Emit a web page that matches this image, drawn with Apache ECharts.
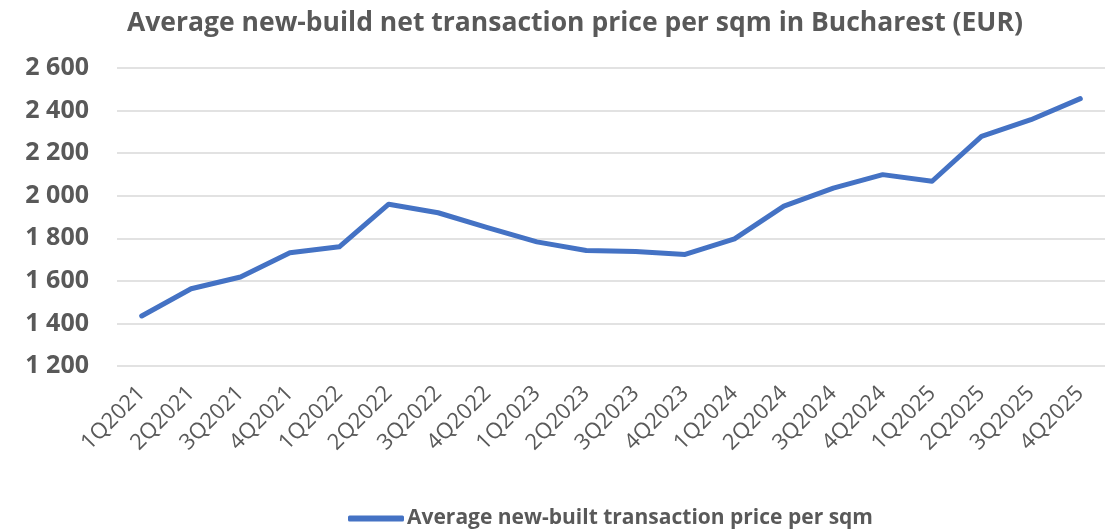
<!DOCTYPE html>
<html>
<head>
<meta charset="utf-8">
<script src="https://cdn.jsdelivr.net/npm/echarts@6/dist/echarts.min.js"></script>
<style>
  html, body { margin: 0; padding: 0; background: #fff; }
  #chart { width: 1116px; height: 530px; }
</style>
</head>
<body>
<div id="chart"></div>
<script>
// quarters on the x axis
const quarters = ['1Q2021', '2Q2021', '3Q2021', '4Q2021', '1Q2022', '2Q2022', '3Q2022', '4Q2022',
    '1Q2023', '2Q2023', '3Q2023', '4Q2023', '1Q2024', '2Q2024', '3Q2024', '4Q2024',
    '1Q2025', '2Q2025', '3Q2025', '4Q2025'];
// EUR per sqm
const prices = [1435, 1563, 1618, 1732, 1760, 1960, 1920, 1850,
    1783, 1743, 1738, 1724, 1797, 1951, 2036, 2099,
    2068, 2279, 2357, 2456];
const seriesName = 'Average new-built transaction price per sqm';

function fmt(v) {
    // thousands separated by a space
    return String(v).replace(/\B(?=(\d{3})+(?!\d))/g, ' ');
}

let chart = echarts.init(document.getElementById('chart'), null, { renderer: 'canvas' });
let option = {
    animation: false,
    title: {
        text: 'Average new-build net transaction price per sqm in Bucharest (EUR)',
        left: 122,
        top: 5,
        textStyle: {
            fontFamily: 'Open Sans',
            fontWeight: 'bold',
            fontSize: 26.5,
            color: '#595959'
        }
    },
    legend: {
        bottom: -4,
        left: 343,
        icon: 'roundRect',
        itemWidth: 56,
        itemHeight: 6,
        itemGap: 4,
        textStyle: {
            fontFamily: 'Open Sans',
            fontWeight: 'bold',
            fontSize: 21,
            color: '#595959',
            padding: [0, 0, 0, -2]
        }
    },
    grid: {
        left: 117,
        right: 11,
        top: 68,
        bottom: 164,
        containLabel: false
    },
    xAxis: {
        type: 'category',
        data: quarters,
        boundaryGap: true,
        axisLine: { show: false },
        axisTick: { show: false },
        axisLabel: {
            rotate: 45,
            interval: 0,
            margin: 24,
            fontFamily: 'Open Sans',
            fontSize: 22,
            color: '#595959'
        }
    },
    yAxis: {
        type: 'value',
        min: 1200,
        max: 2600,
        interval: 200,
        axisLine: { show: false },
        axisTick: { show: false },
        splitLine: { lineStyle: { color: '#d9d9d9', width: 1.5 } },
        axisLabel: {
            margin: 28,
            fontFamily: 'Open Sans',
            fontWeight: 'bold',
            fontSize: 25,
            color: '#595959',
            formatter: fmt
        }
    },
    series: [
        {
            name: seriesName,
            type: 'line',
            data: prices,
            symbol: 'none',
            lineStyle: { color: '#4472c4', width: 5, cap: 'round', join: 'round' },
            itemStyle: { color: '#4472c4' }
        }
    ]
};
chart.setOption(option);
</script>
</body>
</html>
